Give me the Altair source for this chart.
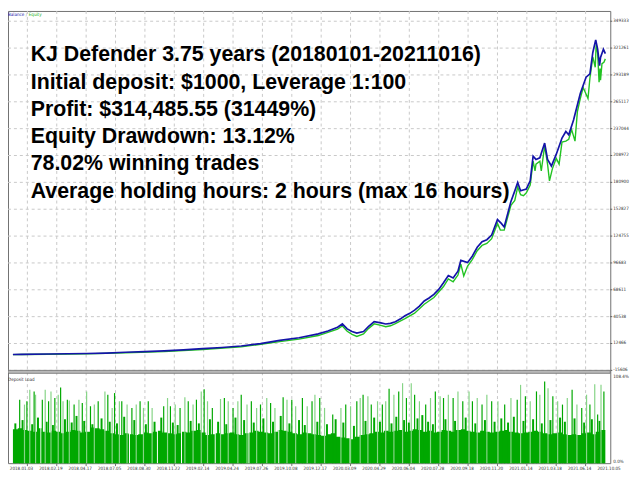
import altair as alt
import pandas as pd

# 잔고(Balance) 곡선: 거래 번호 / 금액
balance_trades = [0, 18, 74, 154, 194, 234, 274, 314, 354, 394, 434, 474, 514, 554, 594, 634, 654, 674, 684, 694,
                  704, 714, 728, 738, 750, 764, 774, 784, 794, 804, 814, 824, 834, 844, 854, 864, 874, 884, 894, 904,
                  914, 924, 930, 944, 954, 964, 974, 984, 994, 1006, 1014, 1020, 1034, 1042, 1048, 1054, 1066, 1074, 1080, 1086,
                  1094, 1104, 1110, 1118, 1128, 1140, 1148, 1154, 1164, 1178, 1190, 1198, 1204, 1210, 1214, 1218, 1220, 1226, 1230]
balance_values = [1000, 1200, 1500, 2000, 2500, 3300, 4000, 4700, 5800, 7100, 8300, 9900, 12300, 15700, 18500, 22600, 25500, 29500, 32900, 27700,
                  25000, 23300, 25000, 30000, 35300, 34000, 32900, 33500, 35300, 38000, 41500, 44000, 47300, 51500, 56900, 60000, 63900, 69000, 75900, 83500,
                  81000, 88000, 99300, 97000, 104000, 113000, 118900, 121000, 125800, 142000, 138000, 134300, 161000, 172000, 180800, 172200, 174000, 182500, 208300, 204900,
                  206600, 222000, 204900, 198000, 210100, 227200, 234100, 230700, 246200, 273700, 290900, 294300, 316700, 329800, 320100, 302900, 311500, 320100, 315485]

# 평가금(Equity) 곡선
equity_trades = [0, 18, 74, 154, 234, 314, 394, 474, 554, 594, 634, 674, 684, 694, 704, 714, 728, 738, 750, 764,
                 774, 784, 794, 814, 834, 854, 874, 894, 904, 914, 924, 930, 936, 944, 954, 964, 974, 984, 994, 1006,
                 1012, 1020, 1034, 1042, 1048, 1054, 1060, 1066, 1074, 1080, 1084, 1086, 1094, 1097, 1104, 1110, 1114, 1120, 1128, 1134,
                 1140, 1148, 1154, 1160, 1167, 1172, 1178, 1184, 1194, 1198, 1204, 1209, 1211, 1214, 1217, 1219, 1220, 1223, 1227, 1230]
equity_values = [900, 1000, 1200, 1600, 2800, 4000, 6200, 8900, 14400, 17000, 20800, 27500, 30800, 25200, 22000, 19800, 22500, 28000, 33000, 31500,
                 30000, 31000, 33200, 38500, 44200, 53500, 60500, 72000, 80000, 77000, 84000, 95500, 83000, 93500, 100500, 109500, 115000, 117000, 122000, 138000,
                 131000, 131000, 157000, 162000, 176000, 168000, 167000, 170000, 178000, 203000, 192900, 200000, 203000, 193000, 219000, 200000, 182500, 195000, 206000, 200000,
                 223000, 224000, 226000, 236000, 224000, 255000, 268500, 280000, 268500, 290000, 312000, 301200, 325000, 316000, 285700, 300000, 287800, 305000, 306400, 310000]

# 오른쪽 축 눈금
balance_ticks = [-15606, 12466, 40538, 68611, 96683, 124755, 152827, 180900, 208972, 237044, 265117, 293189, 321261, 349333]
load_ticks = [0, 108.4]

# 날짜 라벨 (거래 번호 위치)
date_trades = [30, 91, 152, 213, 274, 335, 396, 457, 518, 579, 640, 701, 762, 823, 884, 945, 1006, 1067, 1128, 1189, 1250]
date_labels = ["2018.01.03", "2018.02.19", "2018.04.17", "2018.07.05", "2018.08.30", "2018.11.22", "2019.02.14",
               "2019.04.24", "2019.07.26", "2019.10.08", "2019.12.17", "2020.03.09", "2020.04.29", "2020.06.04",
               "2020.07.28", "2020.09.18", "2020.11.20", "2021.01.14", "2021.03.18", "2021.06.14", "2021.10.05"]

# Deposit Load 기본 수준 (10거래 간격, %)
load_base = [41, 42, 40, 39, 38, 42, 38,
             37, 39, 38, 36, 38, 40, 39, 37, 38,
             43, 42, 41, 39, 36, 35, 34, 36, 35,
             34, 35, 37, 36, 38, 39, 37, 36, 35,
             36, 38, 37, 39, 40, 37, 34, 35, 36,
             35, 36, 37, 35, 34, 36, 37, 39, 38,
             37, 36, 38, 40, 39, 38, 36, 35, 37,
             36, 35, 34, 33, 35, 36, 32, 31, 30,
             29, 32, 34, 35, 36, 38, 37, 39, 38,
             39, 40, 38, 39, 41, 40, 38, 39, 37,
             38, 40, 39, 38, 40, 41, 39, 38, 37,
             39, 38, 37, 38, 39, 40, 38, 37, 36,
             37, 38, 39, 38, 36, 35, 36, 37, 35,
             34, 35, 34, 36, 37, 35, 38, 40, 36]

# Deposit Load 중간 높이 막대 (거래 번호 / %)
mid_trades = [5, 20, 40, 52, 70, 83, 108, 122, 132, 148, 165, 184, 201, 216, 231, 252, 276, 294, 308, 332,
              342, 369, 386, 409, 426, 443, 462, 480, 500, 520, 540, 556, 574, 594, 606, 632, 652, 670, 686, 708,
              732, 750, 762, 786, 796, 812, 822, 840, 850, 862, 872, 898, 918, 940, 960, 980, 1000, 1014, 1028, 1040,
              1060, 1080, 1098, 1116, 1136, 1146, 1166, 1186, 1202, 1218]
mid_loads = [48, 52, 47, 55, 50, 46, 53, 49, 57, 51, 47, 54, 50, 48, 56, 52, 47, 50, 55, 49,
             46, 51, 48, 53, 50, 47, 55, 52, 49, 54, 50, 57, 48, 52, 46, 50, 47, 53, 49, 45,
             51, 55, 50, 48, 56, 52, 49, 54, 58, 50, 47, 53, 51, 55, 48, 52, 50, 54, 49, 56,
             51, 53, 48, 52, 55, 50, 54, 49, 53, 51]

# Deposit Load 스파이크 (거래 번호 / %)
spike_trades = [14, 24, 29, 35, 44, 47, 61, 67, 74, 79, 87, 94, 99, 104, 113, 117, 127, 137, 144, 153,
                161, 169, 177, 191, 197, 206, 211, 221, 226, 237, 247, 256, 264, 271, 281, 289, 313, 321, 327, 337,
                347, 357, 364, 374, 381, 391, 397, 404, 414, 431, 439, 447, 457, 467, 474, 486, 495, 506, 514, 527,
                535, 544, 561, 569, 579, 587, 601, 611, 621, 627,
                637, 647, 664, 681, 691, 701, 714, 721, 727, 737, 744, 757, 767, 774, 781, 791, 801, 809, 817, 827,
                834, 844, 857, 867, 877, 887, 894, 904, 914, 924, 934, 947, 954, 964, 974, 984, 994, 1007, 1021, 1034,
                1047, 1054, 1064, 1074, 1087, 1094, 1104, 1111, 1121, 1131, 1141, 1151, 1161, 1171, 1181, 1191, 1198, 1208, 1214, 1221, 1227]
spike_loads = [76.6, 70.7, 74.7, 88.5, 86.6, 82.6, 76.6, 88.5, 74.7, 86.6, 78.6, 82.6, 91.3, 74.7, 76.6, 75.5, 70.7, 76.6, 72.7, 86.6,
               68.7, 70.7, 74.7, 86.6, 82.6, 66.7, 84.6, 74.7, 74.7, 70.7, 66.7, 70.7, 74.7, 66.7, 74.7, 66.7, 68.7, 78.6, 68.7, 70.7,
               66.7, 79.4, 74.7, 70.7, 76.6, 86.6, 89.3, 74.7, 66.7, 77.4, 78.6, 74.7, 66.7, 74.7, 82.6, 70.7, 74.7, 66.7, 70.7, 78.6,
               72.7, 66.7, 79.4, 76.6, 76.6, 68.7, 78.6, 68.7, 74.7, 82.6,
               78.6, 66.7, 58.8, 66.7, 70.7, 68.7, 74.7, 78.6, 82.6, 80.6, 70.7, 74.7, 70.7, 74.7, 89.7, 82.6, 86.6, 96.5, 78.6, 96.5,
               82.6, 74.7, 70.7, 78.6, 86.6, 80.6, 78.6, 82.6, 78.6, 86.6, 74.7, 86.6, 74.7, 78.6, 70.7, 82.6, 74.7, 74.7, 70.7, 78.6,
               76.6, 94.5, 80.6, 74.7, 86.6, 82.6, 98.5, 90.5, 80.6, 74.7, 70.7, 78.6, 88.5, 70.7, 66.7, 82.6, 70.7, 95.3, 58.8, 94.5, 86.6]

# 부하가 0인 거래 (흰 틈)
zero_load_trades = [58, 242, 300, 350, 420, 490, 552, 700]

info_lines = ["KJ Defender 3.75 years (20180101-20211016)",
              "Initial deposit: $1000, Leverage 1:100",
              "Profit: $314,485.55 (31449%)",
              "Equity Drawdown: 13.12%",
              "78.02% winning trades",
              "Average holding hours: 2 hours (max 16 hours)"]

W, H = 610, 458
TOP_H = 364       # 잔고 패널 아래쪽
LOAD_TOP = 367    # Deposit Load 패널 위쪽
SMALL_FONT = "Liberation Sans Narrow, DejaVu Sans Condensed, sans-serif"
SMALL_SIZE = 4.6
BIG_FONT = "Liberation Sans, Arial, sans-serif"
GRID_COLOR = '#C8C8C8'
DARK_GREEN = '#00A800'

x_scale = alt.Scale(domain=[0, 1230], nice=False, zero=False)
x_enc = alt.X('trade:Q', scale=x_scale, axis=None)
bal_scale = alt.Scale(domain=[-15606, 360050], range=[TOP_H, 0], nice=False, zero=False)
load_scale = alt.Scale(domain=[0, 108.4], range=[H, LOAD_TOP], nice=False, zero=False)

bal_df = pd.DataFrame({'trade': balance_trades, 'value': balance_values})
eq_df = pd.DataFrame({'trade': equity_trades, 'value': equity_values})
tick_df = pd.DataFrame({'value': balance_ticks, 'label': [str(v) for v in balance_ticks]})
base_df = pd.DataFrame({'trade': [i * 10 for i in range(len(load_base))], 'load': load_base})
mid_df = pd.DataFrame({'trade': mid_trades, 'load': mid_loads})
spike_df = pd.DataFrame({'trade': spike_trades, 'load': spike_loads,
                         'shade': ['light' if i % 2 else 'dark' for i in range(len(spike_trades))]})
zero_df = pd.DataFrame({'trade': zero_load_trades})
date_df = pd.DataFrame({'trade': date_trades, 'label': date_labels})
grid_df = date_df[date_df['trade'] <= 1230]
one = pd.DataFrame({'a': [0]})

# 0. 세로 격자 (두 패널 공통)
v_grid = alt.Chart(grid_df).mark_rule(color=GRID_COLOR, strokeDash=[3, 3], strokeWidth=1).encode(
    x=x_enc, y=alt.value(0), y2=alt.value(H))
x_ticks = alt.Chart(grid_df).mark_rule(color='#707070', strokeWidth=1).encode(
    x=x_enc, y=alt.value(H), y2=alt.value(H + 3))

# 1. 잔고 / 평가금 패널
bal_y = alt.Y('value:Q', scale=bal_scale, axis=None)
h_grid = alt.Chart(tick_df).mark_rule(color=GRID_COLOR, strokeDash=[3, 3], strokeWidth=1).encode(
    y=bal_y, x=alt.value(0), x2=alt.value(W))
bal_tick_marks = alt.Chart(tick_df).mark_rule(color='#606060', strokeWidth=1).encode(
    y=bal_y, x=alt.value(W), x2=alt.value(W + 2))
bal_labels = alt.Chart(tick_df).mark_text(font=SMALL_FONT, fontSize=SMALL_SIZE, color='#303030',
                                          align='left', baseline='middle').encode(
    y=bal_y, x=alt.value(W + 3), text='label:N')
equity_line = alt.Chart(eq_df).mark_line(color='#22C322', strokeWidth=1.4).encode(x=x_enc, y=bal_y)
balance_line = alt.Chart(bal_df).mark_line(color='#1414A8', strokeWidth=1.7).encode(x=x_enc, y=bal_y)
top_panel = alt.layer(h_grid, bal_tick_marks, equity_line, balance_line, bal_labels)

# 2. Deposit Load 패널
load_y = alt.Y('load:Q', scale=load_scale, axis=None)
base_area = alt.Chart(base_df).mark_area(interpolate='step-after', color=DARK_GREEN).encode(x=x_enc, y=load_y)
zero_gaps = alt.Chart(zero_df).mark_rule(color='white', strokeWidth=1).encode(
    x=x_enc, y=alt.value(LOAD_TOP + 30), y2=alt.value(H))
mid_bars = alt.Chart(mid_df).mark_bar(width=2, color=DARK_GREEN).encode(x=x_enc, y=load_y)
spikes = alt.Chart(spike_df).mark_bar(width=1.2).encode(
    x=x_enc, y=load_y,
    color=alt.Color('shade:N', scale=alt.Scale(domain=['dark', 'light'], range=[DARK_GREEN, '#86D486']), legend=None))
load_tick_y = alt.Y('tick:Q', scale=load_scale, axis=None)
load_top_label = alt.Chart(pd.DataFrame({'tick': [load_ticks[1]], 'label': ['108.4%']})).mark_text(
    font=SMALL_FONT, fontSize=SMALL_SIZE, color='#303030', align='left', baseline='top', dy=1).encode(
    y=load_tick_y, x=alt.value(W + 3), text='label:N')
load_bottom_label = alt.Chart(pd.DataFrame({'tick': [load_ticks[0]], 'label': ['0.0%']})).mark_text(
    font=SMALL_FONT, fontSize=SMALL_SIZE, color='#303030', align='left', baseline='middle', dy=-1).encode(
    y=load_tick_y, x=alt.value(W + 3), text='label:N')
load_panel = alt.layer(base_area, zero_gaps, mid_bars, spikes, load_top_label, load_bottom_label)

# 3. 패널 구분선
separator = alt.Chart(one).mark_rect(color='#B8B8B8', stroke='#707070', strokeWidth=0.8).encode(
    x=alt.value(0), x2=alt.value(W), y=alt.value(TOP_H), y2=alt.value(LOAD_TOP))

# 4. 텍스트
date_text = alt.Chart(date_df).mark_text(font=SMALL_FONT, fontSize=SMALL_SIZE, color='#303030', dx=-6).encode(
    x=x_enc, y=alt.value(464), text='label:N')
legend_texts = [
    alt.Chart(one).mark_text(text=t, font=SMALL_FONT, fontSize=SMALL_SIZE, color=c, align='left').encode(
        x=alt.value(px), y=alt.value(py))
    for t, c, px, py in [('Balance', '#1414A8', 0, 4), ('/', '#808080', 18, 4), ('Equity', '#22B022', 21, 4),
                         ('Deposit Load', '#303030', 0, 374)]
]
info_texts = [
    alt.Chart(one).mark_text(text=line, font=BIG_FONT, fontSize=21.6, fontWeight='bold', color='black',
                             align='left', baseline='alphabetic').encode(
        x=alt.value(23), y=alt.value(51 + 27.6 * i))
    for i, line in enumerate(info_lines)
]

chart = alt.layer(v_grid, x_ticks, top_panel, load_panel, separator, date_text,
                  *legend_texts, *info_texts).resolve_scale(
    y='independent'
).properties(
    width=W, height=H,
    autosize=alt.AutoSizeParams(type='none'),
    padding={'left': 0, 'top': 0, 'right': 22, 'bottom': 12}
).configure_view(stroke='#707070', strokeWidth=1)

chart.save("out.html", embed_options={"renderer": "svg", "actions": False})
